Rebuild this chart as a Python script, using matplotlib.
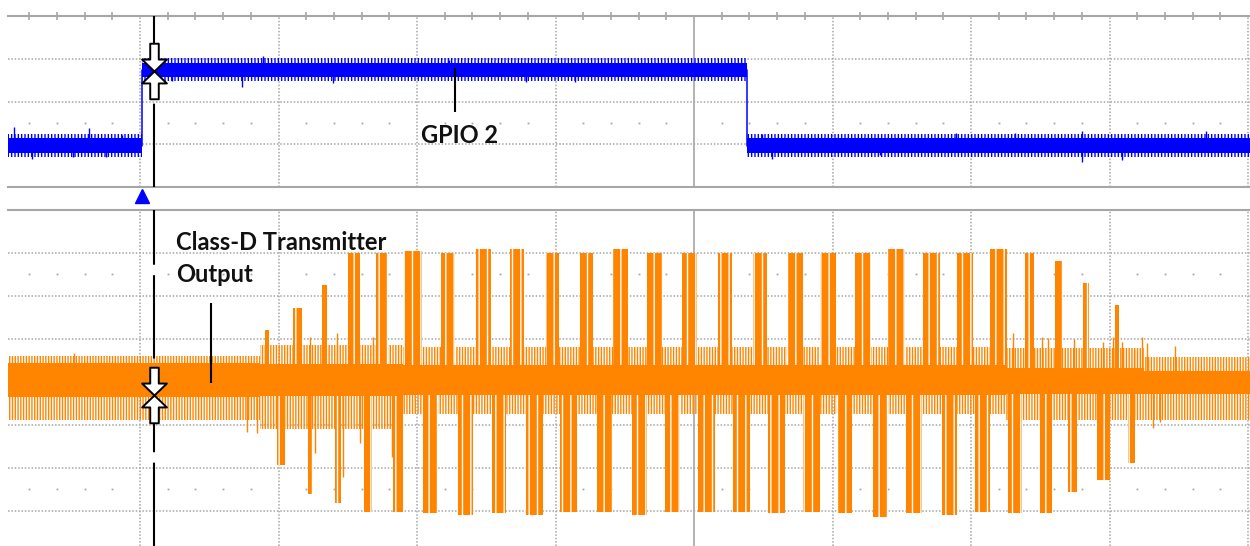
import numpy as np
import matplotlib.pyplot as plt
from matplotlib.path import Path
from matplotlib.ticker import MultipleLocator, FixedLocator

# horizontal axis in screen divisions, 0 = centre graticule line
X_LEFT, X_RIGHT = -4.953, 4.014

# ---- channel 1: GPIO 2 (divisions above the lower border of the top pane)
gpio_edges = [X_LEFT, -3.986, 0.383, X_RIGHT]
gpio_levels = [0.97, 2.74, 0.97, 0.97]
gpio_core = 0.17   # half-width of the dense noise band
gpio_fuzz = 0.27   # reach of the fine noise comb
gpio_spike_x = [-4.910, -4.780, -4.484, -4.368, -4.245, -4.130, -3.769, -3.264,
                -3.112, -2.606, -1.769, -1.213, -0.859, 0.491, 0.563, 1.343,
                1.892, 2.318, 2.801, 2.801, 3.090, 3.697]
gpio_spike_y = [1.40, 0.65, 0.70, 1.38, 0.70, 1.22, 2.48, 2.34,
                3.06, 2.43, 2.97, 2.46, 2.46, 1.24, 0.65, 0.75,
                1.26, 1.26, 1.31, 0.58, 0.63, 1.31]

# ---- channel 2: Class-D transmitter output (divisions around centre line)
seg_edges = [X_LEFT, -3.13, -2.10, 2.25, 3.25, X_RIGHT]
core_top = [0.45, 0.42, 0.40, 0.32, 0.26]
core_bot = [-0.36, -0.33, -0.30, -0.28, -0.28]
comb_top = [0.60, 0.86, 0.82, 0.80, 0.58]
comb_bot = [-0.88, -1.10, -0.74, -0.88, -0.88]

up_x = [-3.083, -2.866, -2.671, -2.455, -2.253, -2.029, -1.776, -1.520, -1.278,
        -1.022, -0.776, -0.531, -0.285, -0.032, 0.224, 0.477, 0.729, 0.968,
        1.220, 1.462, 1.715, 1.957, 2.199, 2.422, 2.632, 2.830, 3.051]
up_w = [0.03, 0.065, 0.036, 0.087, 0.08, 0.137, 0.105, 0.11, 0.10,
        0.10, 0.10, 0.11, 0.11, 0.11, 0.10, 0.10, 0.115, 0.11,
        0.12, 0.12, 0.12, 0.115, 0.12, 0.072, 0.05, 0.045, 0.03]
up_peak = [1.21, 1.72, 2.26, 3.0, 3.0, 3.05, 3.0, 3.1, 3.1,
           3.0, 3.0, 3.1, 3.0, 3.0, 3.0, 3.0, 3.0, 3.0,
           3.0, 3.1, 3.0, 3.0, 3.1, 3.0, 2.81, 2.3, 1.8]

dn_x = [-2.982, -2.773, -2.570, -2.354, -2.137, -1.903, -1.650, -1.408, -1.152,
        -0.906, -0.646, -0.394, -0.155, 0.090, 0.343, 0.596, 0.848, 1.087,
        1.347, 1.588, 1.845, 2.083, 2.318, 2.542, 2.733, 2.957, 3.159]
dn_w = [0.058, 0.03, 0.045, 0.058, 0.072, 0.11, 0.11, 0.10, 0.12,
        0.12, 0.11, 0.11, 0.11, 0.12, 0.12, 0.12, 0.12, 0.11,
        0.11, 0.115, 0.11, 0.11, 0.10, 0.085, 0.065, 0.09, 0.05]
dn_peak = [-1.93, -2.6, -2.81, -3.02, -3.02, -3.05, -3.1, -3.05, -3.1,
           -3.02, -3.02, -3.1, -3.02, -3.02, -3.02, -3.05, -3.02, -3.05,
           -3.15, -3.05, -3.1, -3.02, -3.05, -3.05, -2.55, -2.28, -1.88]

spike_x = [-4.477, -3.227, -3.155, -2.773, -2.578, -2.318, -2.736, -2.534, -2.412,
           -2.181, 2.303, 2.513, 2.556, 2.744, 2.953, 3.025, 3.090, 3.177,
           3.235, 3.271, 3.473, 3.314, 3.365]
spike_y = [0.67, -1.16, -1.19, 1.05, 1.14, 1.05, -1.65, -2.21, -1.42,
           -1.74, 1.14, 1.05, 1.02, 1.00, 0.93, 1.05, 0.93, 0.74,
           1.05, 0.90, 0.84, -1.07, -0.93]

cursor_x = -3.899
cursor_y_top = 2.71
cursor_y_bot = -0.31

BLUE = '#0000FF'
ORANGE = '#FF8400'
GRID = '#A6A6A6'

plt.rcParams['hatch.linewidth'] = 1.0


def graticule(ax, hlines, dot_rows):
    ax.set_xlim(X_LEFT, X_RIGHT)
    for x in range(-4, 5):
        if x == 0:
            ax.axvline(x, color=GRID, lw=1.2, zorder=1)
        else:
            ax.axvline(x, color=GRID, lw=1.1, ls=(0, (1, 1.2)), zorder=1)
    for y in hlines:
        ax.axhline(y, color=GRID, lw=1.1, ls=(0, (1, 1.2)), zorder=1)
    steps = np.arange(-24, 21)
    minors = steps[steps % 5 != 0] * 0.2
    for y in dot_rows:
        ax.plot(minors, np.full(len(minors), y), ls='none', marker='s',
                ms=1.3, color=GRID, mew=0, zorder=1)
    ax.set_yticks([])
    ax.xaxis.set_major_locator(FixedLocator(range(-4, 5)))
    for side in ['left', 'right', 'bottom', 'top']:
        ax.spines[side].set_visible(False)


fig = plt.figure(figsize=(12.5, 5.46), dpi=100)
ax1 = fig.add_axes([8 / 1250, 1 - 187 / 546, 1242 / 1250, 171 / 546])
ax2 = fig.add_axes([8 / 1250, 0, 1242 / 1250, 336 / 546])

# ---- top pane
graticule(ax1, [1, 2, 3], [1.5])
ax1.set_ylim(0, 4)
for side in ['top', 'bottom']:
    ax1.spines[side].set_visible(True)
    ax1.spines[side].set_color(GRID)
    ax1.spines[side].set_linewidth(1.5)
ax1.xaxis.set_ticks_position('top')
ax1.xaxis.set_minor_locator(MultipleLocator(0.2))
ax1.tick_params(which='major', length=0)
ax1.tick_params(which='minor', top=True, bottom=False, direction='inout',
                length=6, width=1.2, color=GRID)
ax1.tick_params(which='both', labeltop=False, labelbottom=False)

lv = np.array(gpio_levels)
ax1.fill_between(gpio_edges, lv - gpio_fuzz, lv + gpio_fuzz, step='post',
                 facecolor='none', edgecolor=BLUE, hatch='|||||', linewidth=0,
                 zorder=3)
ax1.fill_between(gpio_edges, lv - gpio_core, lv + gpio_core, step='post',
                 color=BLUE, linewidth=0, zorder=3)
ax1.step(gpio_edges, gpio_levels, where='post', color=BLUE, lw=1.1, zorder=3)
idx = np.searchsorted(gpio_edges, gpio_spike_x, side='right') - 1
ax1.vlines(gpio_spike_x, lv[idx], gpio_spike_y, color=BLUE, lw=1.0, zorder=3)

ax1.text(-1.971, 1.03, 'GPIO 2', fontsize=17, fontweight='bold',
         family='Lato', color='#111111', ha='left', va='baseline', zorder=7)
ax1.vlines(-1.726, 1.75, 2.78, color='black', lw=1.5, zorder=7)

ax1.axvline(cursor_x, color='black', lw=1.5, ls=(0, (40, 5)), zorder=5)

# ---- bottom pane
graticule(ax2, [-3, -2, -1, 0, 1, 2, 3], [2.5, -2.5])
ax2.set_ylim(-3.814, 4)
ax2.spines['top'].set_visible(True)
ax2.spines['top'].set_color(GRID)
ax2.spines['top'].set_linewidth(1.5)
ax2.tick_params(which='both', length=0, labelbottom=False, labeltop=False)

ct = core_top + core_top[-1:]
cb = core_bot + core_bot[-1:]
mt = comb_top + comb_top[-1:]
mb = comb_bot + comb_bot[-1:]
ax2.fill_between(seg_edges, mb, mt, step='post', facecolor='none',
                 edgecolor=ORANGE, hatch='||||||', linewidth=0, zorder=3)
# bursts: orange body with the thin white sample gaps of the scope display
ax2.bar(up_x, up_peak, width=up_w, facecolor=ORANGE, edgecolor='white',
        hatch='||', linewidth=0, zorder=3)
ax2.bar(dn_x, dn_peak, width=dn_w, facecolor=ORANGE, edgecolor='white',
        hatch='||', linewidth=0, zorder=3)
ax2.fill_between(seg_edges, cb, ct, step='post', color=ORANGE, linewidth=0,
                 zorder=3)
ax2.vlines(spike_x, 0, spike_y, color=ORANGE, lw=1.0, zorder=3)

ax2.text(-3.74, 3.07, 'Class-D Transmitter', fontsize=17, fontweight='bold',
         family='Lato', color='#111111', ha='left', va='baseline', zorder=7)
ax2.text(-3.74, 2.33, 'Output', fontsize=17, fontweight='bold',
         family='Lato', color='#111111', ha='left', va='baseline', zorder=7)
ax2.vlines(-3.487, -0.02, 1.84, color='black', lw=1.5, zorder=7)

ax2.axvline(cursor_x, color='black', lw=1.5, ls=(0, (40, 5)), zorder=5)

# trigger marker between the panes
ax2.plot([-3.986], [4.33], marker='^', ms=9.5, color=BLUE, clip_on=False,
         zorder=6)

# cursor crossing markers
bw, tw, tb = 0.154, 0.446, 0.43
cursor_path = Path([(-bw, 1), (bw, 1), (bw, tb), (tw, tb), (0, 0), (tw, -tb),
                    (bw, -tb), (bw, -1), (-bw, -1), (-bw, -tb), (-tw, -tb),
                    (0, 0), (-tw, tb), (-bw, tb), (-bw, 1)], closed=True)
ax1.plot([cursor_x], [cursor_y_top], marker=cursor_path, ms=40, mfc='white',
         mec='black', mew=1.4, zorder=6)
ax2.plot([cursor_x], [cursor_y_bot], marker=cursor_path, ms=40, mfc='white',
         mec='black', mew=1.4, zorder=6)

fig.savefig('out.png', dpi=100)
